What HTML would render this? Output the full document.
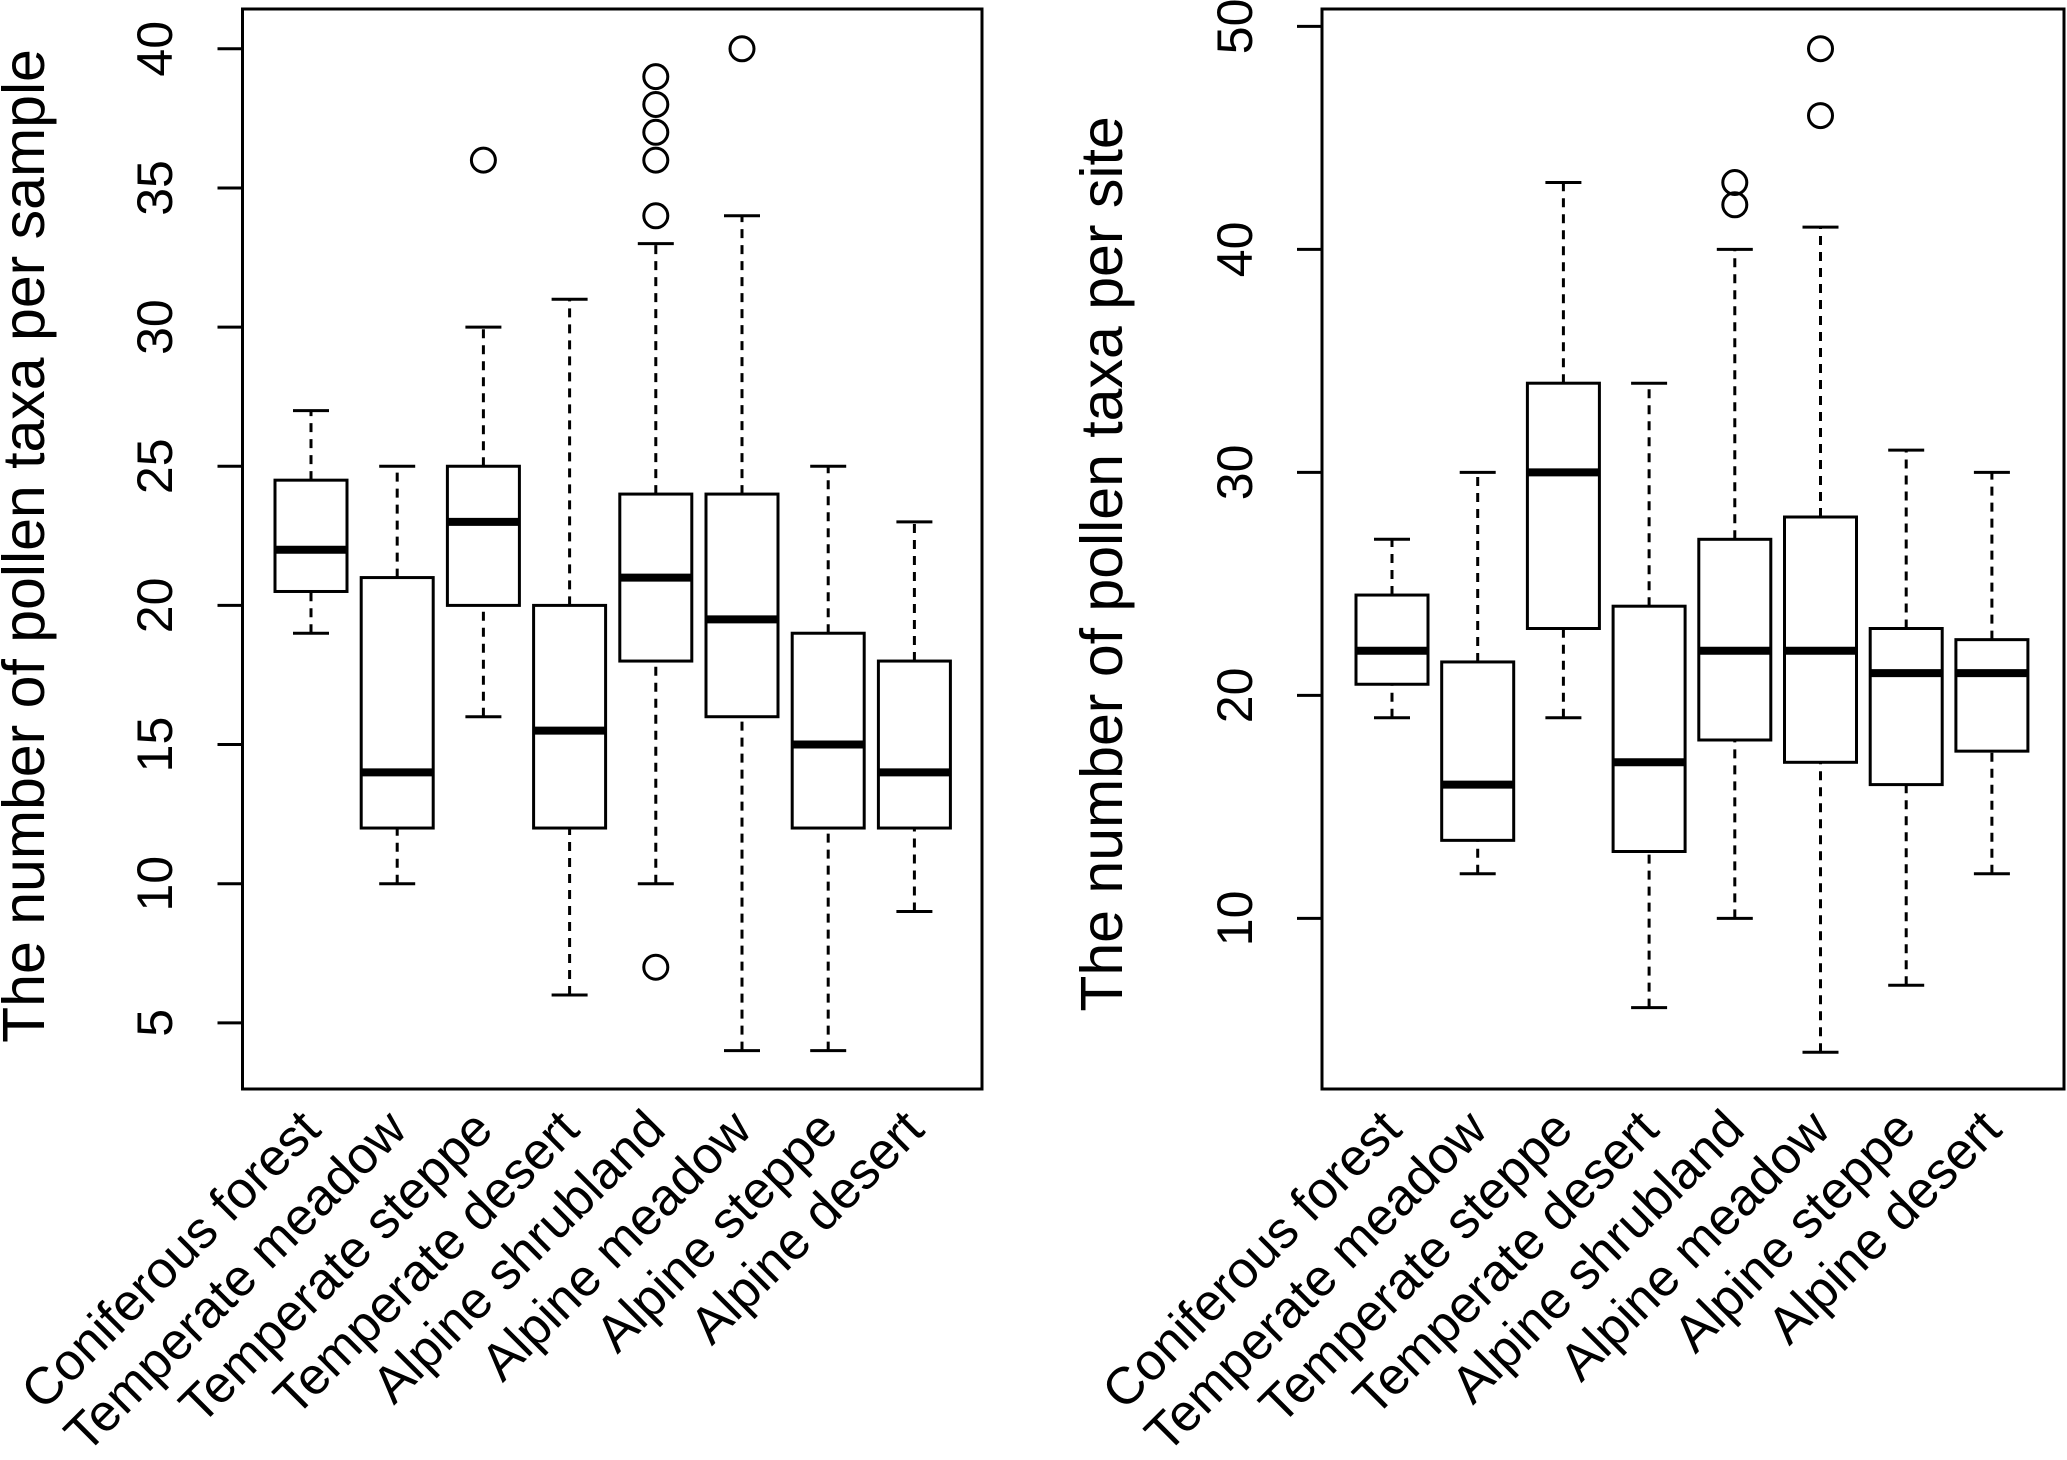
<!DOCTYPE html>
<html><head><meta charset="utf-8"><style>
html,body{margin:0;padding:0;background:#fff}
svg{display:block}
text{font-family:"Liberation Sans",Arial,sans-serif;fill:#000}
</style></head><body>
<svg id="chart" width="2067" height="1460" viewBox="0 0 2067 1460" xmlns="http://www.w3.org/2000/svg"></svg>
<script>
const categories = ["Coniferous forest","Temperate meadow","Temperate steppe","Temperate desert","Alpine shrubland","Alpine meadow","Alpine steppe","Alpine desert"];
// [lowWhisker, q1, median, q3, highWhisker]
const sampleStats = [[19,20.5,22,24.5,27],[10,12,14,21,25],[16,20,23,25,30],[6,12,15.5,20,31],[10,18,21,24,33],[4,16,19.5,24,34],[4,12,15,19,25],[9,12,14,18,23]];
const sampleOutliers = [[],[],[36],[],[34,36,37,38,39,7],[40],[],[]];
const siteStats = [[19,20.5,22,24.5,27],[12,13.5,16,21.5,30],[19,23,30,34,43],[6,13,17,24,34],[10,18,22,27,40],[4,17,22,28,41],[7,16,21,23,31],[12,17.5,21,22.5,30]];
const siteOutliers = [[],[],[],[],[42,43],[46,49],[],[]];
const sampleTicks = [5,10,15,20,25,30,35,40];
const siteTicks = [10,20,30,40,50];

const NS="http://www.w3.org/2000/svg";
const svg=document.getElementById('chart');
function el(tag,attrs,parent){const e=document.createElementNS(NS,tag);for(const k in attrs)e.setAttribute(k,attrs[k]);(parent||svg).appendChild(e);return e;}

function panel(cfg){
  const g=el('g',{});
  
  
  const y=v=>cfg.y0+(v-cfg.v0)*cfg.py;
  const x=i=>cfg.cx0+cfg.dx*i;
  const frame=el('rect',{x:cfg.left,y:9,width:cfg.right-cfg.left,height:1080,fill:'none',stroke:'#000','stroke-width':3},g);
  
  
  cfg.ticks.forEach(t=>{
    const ln=el('line',{x1:cfg.left,x2:cfg.left-25,y1:y(t),y2:y(t),stroke:'#000','stroke-width':3},g);
    
    
    const tx=el('text',{x:cfg.tickX,y:y(t),'font-size':50,'text-anchor':'middle',transform:`rotate(-90 ${cfg.tickX} ${y(t)})`},g);
    
    
    tx.textContent=t;
  });
  const tt=el('text',{x:cfg.titleX,y:cfg.titleY,'font-size':59,'text-anchor':'middle',transform:`rotate(-90 ${cfg.titleX} ${cfg.titleY})`},g);
  
  
  tt.textContent=cfg.title;
  const hw=36,cw=18;
  cfg.stats.forEach((s,i)=>{
    const cx=x(i);
    const bg=el('g',{},g);
    
    
    el('line',{x1:cx,x2:cx,y1:y(s[0]),y2:y(s[1]),stroke:'#000','stroke-width':3,'stroke-dasharray':'9 7'},bg);
    el('line',{x1:cx,x2:cx,y1:y(s[3]),y2:y(s[4]),stroke:'#000','stroke-width':3,'stroke-dasharray':'9 7'},bg);
    el('line',{x1:cx-cw,x2:cx+cw,y1:y(s[0]),y2:y(s[0]),stroke:'#000','stroke-width':3},bg);
    el('line',{x1:cx-cw,x2:cx+cw,y1:y(s[4]),y2:y(s[4]),stroke:'#000','stroke-width':3},bg);
    el('rect',{x:cx-hw,y:y(s[3]),width:2*hw,height:y(s[1])-y(s[3]),fill:'#fff',stroke:'#000','stroke-width':3},bg);
    el('line',{x1:cx-hw,x2:cx+hw,y1:y(s[2]),y2:y(s[2]),stroke:'#000','stroke-width':8},bg);
    cfg.outliers[i].forEach(o=>{
      const c=el('circle',{cx:cx,cy:y(o),r:12,fill:'none',stroke:'#000','stroke-width':3},g);
      
      
    });
    const lx=cx+12, lyy=1132;
    const lb=el('text',{x:lx,y:lyy,'font-size':52,'text-anchor':'end',transform:`rotate(-45 ${lx} ${lyy})`},g);
    
    
    lb.textContent=categories[i];
  });
}
panel({name:'samples-panel',left:242.5,right:982,y0:48.8,v0:40,py:-27.83,cx0:311,dx:86.2,ticks:sampleTicks,tickX:172,titleX:44,titleY:546,title:'The number of pollen taxa per sample',stats:sampleStats,outliers:sampleOutliers});
panel({name:'sites-panel',left:1322,right:2064,y0:26.4,v0:50,py:-22.3,cx0:1392,dx:85.7,ticks:siteTicks,tickX:1252,titleX:1122,titleY:564,title:'The number of pollen taxa per site',stats:siteStats,outliers:siteOutliers});
</script>
</body></html>
